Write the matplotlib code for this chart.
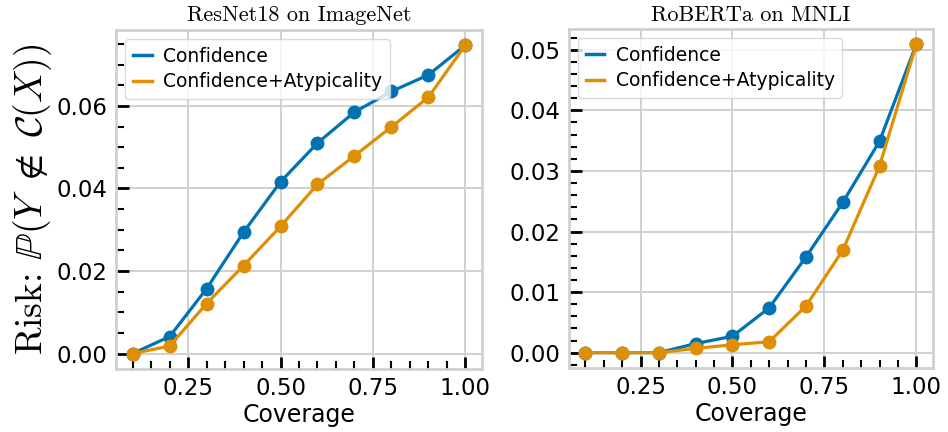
import matplotlib
matplotlib.use("Agg")
import matplotlib.pyplot as plt
from matplotlib.lines import Line2D
from matplotlib.ticker import MultipleLocator

coverage = [0.1, 0.2, 0.3, 0.4, 0.5, 0.6, 0.7, 0.8, 0.9, 1.0]

resnet_conf = [0.0, 0.0041, 0.0157, 0.0294, 0.0416, 0.0510, 0.0585, 0.0635, 0.0675, 0.0747]
resnet_atyp = [0.0, 0.0018, 0.0121, 0.0213, 0.0308, 0.0410, 0.0479, 0.0549, 0.0621, 0.0747]

roberta_conf = [0.0, 0.0, 0.0, 0.0015, 0.0027, 0.0074, 0.0158, 0.0248, 0.0349, 0.0509]
roberta_atyp = [0.0, 0.0, 0.0, 0.0007, 0.0013, 0.0018, 0.0077, 0.0169, 0.0308, 0.0509]

titles = ["ResNet18 on ImageNet", "RoBERTa on MNLI"]
labels = ["Confidence", "Confidence+Atypicality"]
colors = ["#0173b2", "#de8f05"]

plt.rcParams["mathtext.fontset"] = "cm"

fig = plt.figure(figsize=(9.48, 4.32), dpi=100)
ax1 = fig.add_axes([0.1224, 0.146, 0.386, 0.785])
ax2 = fig.add_axes([0.600, 0.148, 0.384, 0.785])

panels = [
    (ax1, resnet_conf, resnet_atyp, 0.02, 0.005),
    (ax2, roberta_conf, roberta_atyp, 0.01, 0.002),
]

for i, (ax, conf, atyp, ymaj, ymin) in enumerate(panels):
    ax.grid(True, which="major", color="#d0d0d0", linewidth=1.4)
    ax.set_axisbelow(True)
    ax.plot(coverage, conf, color=colors[0], linewidth=2.3, marker="o", markersize=9)
    ax.plot(coverage, atyp, color=colors[1], linewidth=2.3, marker="o", markersize=9)
    ax.xaxis.set_major_locator(MultipleLocator(0.25))
    ax.xaxis.set_minor_locator(MultipleLocator(0.05))
    ax.yaxis.set_major_locator(MultipleLocator(ymaj))
    ax.yaxis.set_minor_locator(MultipleLocator(ymin))
    ax.xaxis.set_major_formatter(matplotlib.ticker.FormatStrFormatter("%.2f"))
    ax.yaxis.set_major_formatter(matplotlib.ticker.FormatStrFormatter("%.2f"))
    ax.tick_params(which="major", direction="in", length=9, width=2, labelsize=16.5, color="black", pad=6)
    ax.tick_params(which="minor", direction="in", length=5.5, width=1.5, color="black")
    for s in ax.spines.values():
        s.set_color("#d0d0d0")
        s.set_linewidth(2)
    ax.set_title(titles[i], family="cmr10", fontsize=16, pad=6)
    ax.set_xlabel("Coverage", fontsize=17, labelpad=2)
    handles = [Line2D([], [], color=c, linewidth=2.5) for c in colors]
    leg = ax.legend(handles, labels, loc="upper left", fontsize=13.5, handlelength=1.0,
                    handletextpad=0.6, borderpad=0.4, labelspacing=0.35, fancybox=True,
                    framealpha=0.8, edgecolor="#d0d0d0")

ax1.set_ylabel(r"$\mathrm{Risk}$: $\mathbb{P}(Y\ \notin\ \mathcal{C}(X))$", fontsize=27, family="cmr10", labelpad=2)

fig.savefig("out.png", dpi=100)
